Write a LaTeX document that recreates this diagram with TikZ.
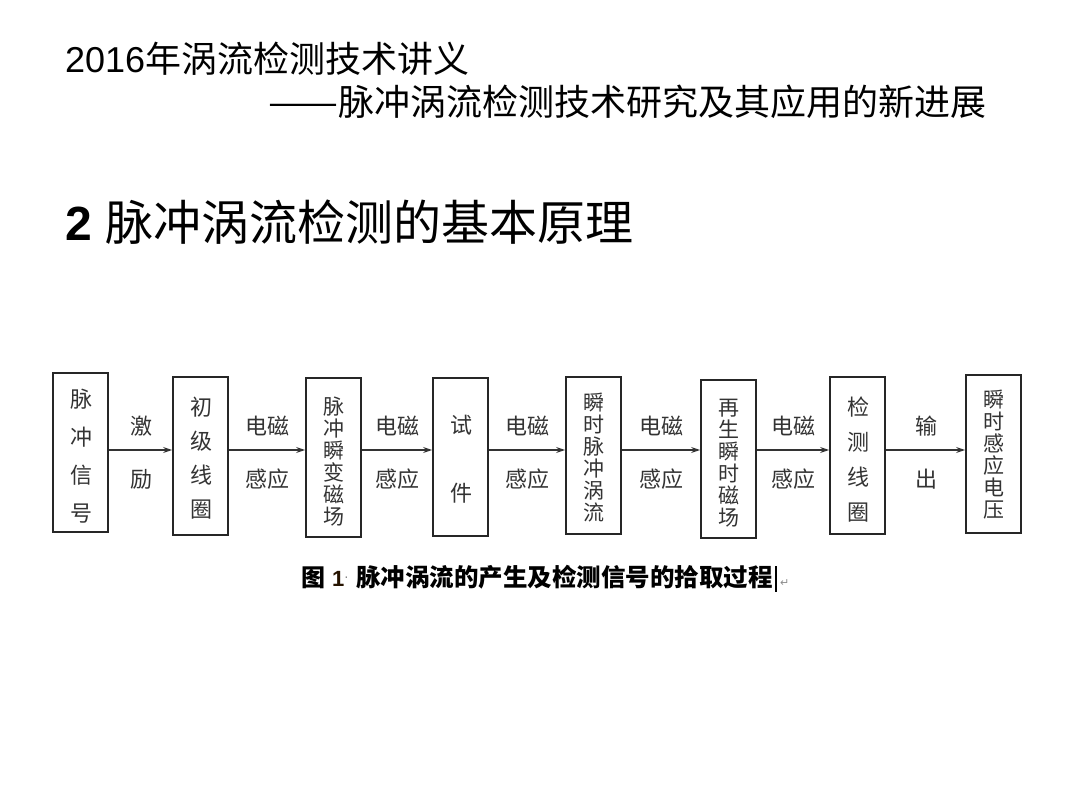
\documentclass[tikz,border=0pt]{standalone}
\usepackage{fontspec}
\usepackage{graphicx}
\setmainfont{Liberation Sans}
\newfontfamily\cjk{Noto Sans CJK SC}
\newfontfamily\dejavu{DejaVu Sans}
\usetikzlibrary{arrows.meta}
\tikzset{
  box/.style={draw=black!85, line width=1.8pt, minimum width=55pt, inner sep=0pt},
  arr/.style={draw=black!80, line width=1.4pt, -{Stealth[length=9pt,width=6pt]}},
  lbl/.style={font=\cjk\fontsize{22}{22}\selectfont, text=black!80, inner sep=0pt},
  vt/.style={font=\cjk\fontsize{22}{#1}\selectfont, text=black!80, align=center, inner sep=0pt},
  vs/.style={font=\cjk\fontsize{21}{22}\selectfont, text=black!80, align=center, inner sep=0pt}
}
\begin{document}
\begin{tikzpicture}[x=1pt,y=-1pt]
\useasboundingbox[fill=white] (0,0) rectangle (1080,810);
% titles
\node[anchor=base west, inner sep=0pt, font=\fontsize{36}{40}\selectfont] (t1) at (65,73) {2016{\cjk 年涡流检测技术讲义}};
\node[anchor=base west, inner sep=0pt, font=\cjk\fontsize{36}{40}\selectfont] (t2) at (268,116) {\resizebox{70pt}{\height}{——}脉冲涡流检测技术研究及其应用的新进展};
\node[anchor=base west, inner sep=0pt, font=\fontsize{48}{52}\selectfont] (h) at (65,241) {\textbf{2} {\cjk 脉冲涡流检测的基本原理}};
% boxes
\node[box, minimum height=159pt] (b1) at (80.5,452.5) {};
\node[box, minimum height=158pt] (b2) at (200.5,456) {};
\node[box, minimum height=159pt] (b3) at (333.5,457.5) {};
\node[box, minimum height=158pt] (b4) at (460.5,457) {};
\node[box, minimum height=157pt] (b5) at (593.5,455.5) {};
\node[box, minimum height=158pt] (b6) at (728.5,459) {};
\node[box, minimum height=157pt] (b7) at (857.5,455.5) {};
\node[box, minimum height=158pt] (b8) at (993.5,454) {};
% box texts
\node[vt=38] (x1) at (81,456) {脉\\冲\\信\\号};
\node[vt=34] (x2) at (201,458) {初\\级\\线\\圈};
\node[vs] (x3) at (334,462) {脉\\冲\\瞬\\变\\磁\\场};
\node[vt=68] (x4) at (461,459) {试\\件};
\node[vs] (x5) at (594,458) {瞬\\时\\脉\\冲\\涡\\流};
\node[vs] (x6) at (729,463) {再\\生\\瞬\\时\\磁\\场};
\node[vt=35] (x7) at (858,460) {检\\测\\线\\圈};
\node[vs] (x8) at (994,455) {瞬\\时\\感\\应\\电\\压};
% connectors
\draw[arr] (b1.east |- 0,450) -- (b2.west |- 0,450);
\draw[arr] (b2.east |- 0,450) -- (b3.west |- 0,450);
\draw[arr] (b3.east |- 0,450) -- (b4.west |- 0,450);
\draw[arr] (b4.east |- 0,450) -- (b5.west |- 0,450);
\draw[arr] (b5.east |- 0,450) -- (b6.west |- 0,450);
\draw[arr] (b6.east |- 0,450) -- (b7.west |- 0,450);
\draw[arr] (b7.east |- 0,450) -- (b8.west |- 0,450);
% connector labels
\node[lbl] (l1a) at (141,426) {激};
\node[lbl] (l1b) at (141,479) {励};
\node[lbl] (l2a) at (267,426) {电磁};
\node[lbl] (l2b) at (267,479) {感应};
\node[lbl] (l3a) at (397,426) {电磁};
\node[lbl] (l3b) at (397,479) {感应};
\node[lbl] (l4a) at (527,426) {电磁};
\node[lbl] (l4b) at (527,479) {感应};
\node[lbl] (l5a) at (661,426) {电磁};
\node[lbl] (l5b) at (661,479) {感应};
\node[lbl] (l6a) at (793,426) {电磁};
\node[lbl] (l6b) at (793,479) {感应};
\node[lbl] (l7a) at (926,426) {输};
\node[lbl] (l7b) at (926,479) {出};
% caption
\node[anchor=base west, inner sep=0pt, font=\cjk\bfseries\fontsize{24}{26}\selectfont] (c1) at (301,586) {图};
\node[anchor=base west, inner sep=0pt, font=\bfseries\fontsize{22}{26}\selectfont, text=black!85!orange] (c2) at (332,586) {1};
\node[anchor=base west, inner sep=0pt, font=\fontsize{14}{16}\selectfont, text=black!50] (c3) at (344,581) {·};
\node[anchor=base west, inner sep=0pt, font=\cjk\bfseries\fontsize{24.5}{26}\selectfont] (c4) at (356,586) {脉冲涡流的产生及检测信号的拾取过程};
\draw[line width=1.2pt] (c4.south east) ++(3,3) -- ++(0,-26);
\node[anchor=base west, inner sep=0pt, font=\dejavu\fontsize{11}{12}\selectfont, text=black!45] (c5) at (780,586) {↵};
\end{tikzpicture}
\end{document}
